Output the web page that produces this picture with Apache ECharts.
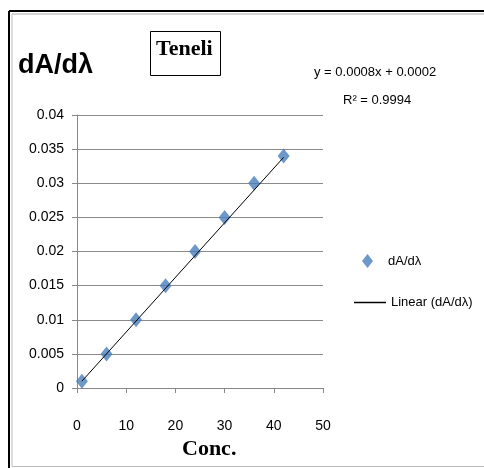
<!DOCTYPE html>
<html>
<head>
<meta charset="utf-8">
<script src="https://cdn.jsdelivr.net/npm/echarts@6/dist/echarts.min.js"></script>
<style>
  html, body { margin: 0; padding: 0; background: #fff; }
  #chart { width: 484px; height: 468px; }
</style>
</head>
<body>
<div id="chart"></div>
<script>
// data
var conc = [1, 6, 12, 18, 24, 30, 36, 42];
var dAdl = [0.001, 0.005, 0.01, 0.015, 0.02, 0.025, 0.03, 0.034];
// trendline end points (y = 0.0008x + 0.0002)
var trendX = [1, 42];
var trendY = [0.001, 0.0338];

var sans = "'Liberation Sans', Arial, sans-serif";

var points = conc.map(function (c, i) { return [c, dAdl[i]]; });
var trend = trendX.map(function (c, i) { return [c, trendY[i]]; });

var chart = echarts.init(document.getElementById('chart'));
chart.setOption({
    animation: false,
    backgroundColor: '#fff',
    graphic: [
        // outer frame
        { type: 'line', shape: { x1: 9, y1: 11, x2: 484, y2: 11 }, style: { stroke: '#000', lineWidth: 2 } },
        { type: 'line', shape: { x1: 9, y1: 11, x2: 9, y2: 468 }, style: { stroke: '#000', lineWidth: 2 } },
        { type: 'line', shape: { x1: 12, y1: 14, x2: 484, y2: 14 }, style: { stroke: '#aaa', lineWidth: 1 } },
        { type: 'line', shape: { x1: 12, y1: 14, x2: 12, y2: 466 }, style: { stroke: '#bbb', lineWidth: 1 } },
        { type: 'line', shape: { x1: 12, y1: 466.5, x2: 484, y2: 466.5 }, style: { stroke: '#bbb', lineWidth: 1 } },
        // title box
        { type: 'rect', shape: { x: 150.5, y: 31.5, width: 70, height: 44 }, style: { fill: '#fff', stroke: '#000', lineWidth: 1 } },
        { type: 'text', left: 156, top: 38, style: { text: 'Teneli', font: 'bold 22px "Liberation Serif", serif', fill: '#000' } },
        // y axis title
        { type: 'text', left: 18, top: 52, style: { text: 'dA/dλ', font: 'bold 27px ' + sans, fill: '#000' } },
        // x axis title
        { type: 'text', left: 182, top: 438, style: { text: 'Conc.', font: 'bold 22px "Liberation Serif", serif', fill: '#000' } },
        // equation
        { type: 'text', left: 314, top: 66, style: { text: 'y = 0.0008x + 0.0002', font: '13px ' + sans, fill: '#000' } },
        { type: 'text', left: 343, top: 94, style: { text: 'R² = 0.9994', font: '13px ' + sans, fill: '#000' } }
    ],
    legend: [{
        data: ['dA/dλ'],
        left: 357,
        top: 249,
        icon: 'diamond',
        itemWidth: 11,
        itemHeight: 14,
        itemGap: 10,
        textStyle: { fontFamily: sans, fontSize: 13, color: '#000', padding: [0, 0, 0, 10] }
    }, {
        data: ['Linear (dA/dλ)'],
        left: 349,
        top: 291,
        icon: 'rect',
        itemWidth: 32,
        itemHeight: 1.5,
        itemGap: 2,
        textStyle: { fontFamily: sans, fontSize: 13, color: '#000', padding: [0, 0, 0, 0] }
    }],
    grid: { left: 77, right: 161, top: 115, bottom: 80 },
    xAxis: {
        type: 'value',
        min: 0,
        max: 50,
        interval: 10,
        axisLine: { show: true, lineStyle: { color: '#888', width: 1 } },
        axisTick: { show: true, length: 5, lineStyle: { color: '#888' } },
        splitLine: { show: false },
        axisLabel: { margin: 31, fontFamily: sans, fontSize: 14, color: '#000' }
    },
    yAxis: {
        type: 'value',
        min: 0,
        max: 0.04,
        interval: 0.005,
        axisLine: { show: true, lineStyle: { color: '#888', width: 1 } },
        axisTick: { show: true, length: 5, lineStyle: { color: '#888' } },
        splitLine: { show: true, lineStyle: { color: '#8a8a8a', width: 1 } },
        axisLabel: { margin: 13, fontFamily: sans, fontSize: 14, color: '#000' }
    },
    series: [{
        name: 'dA/dλ',
        type: 'scatter',
        symbol: 'diamond',
        symbolSize: [12, 15],
        itemStyle: { color: '#4a7ebb' },
        data: points,
        z: 3
    }, {
        name: 'Linear (dA/dλ)',
        type: 'line',
        showSymbol: false,
        symbol: 'none',
        lineStyle: { color: '#000', width: 1 },
        itemStyle: { color: '#000' },
        data: trend,
        z: 4
    }]
});
</script>
</body>
</html>
